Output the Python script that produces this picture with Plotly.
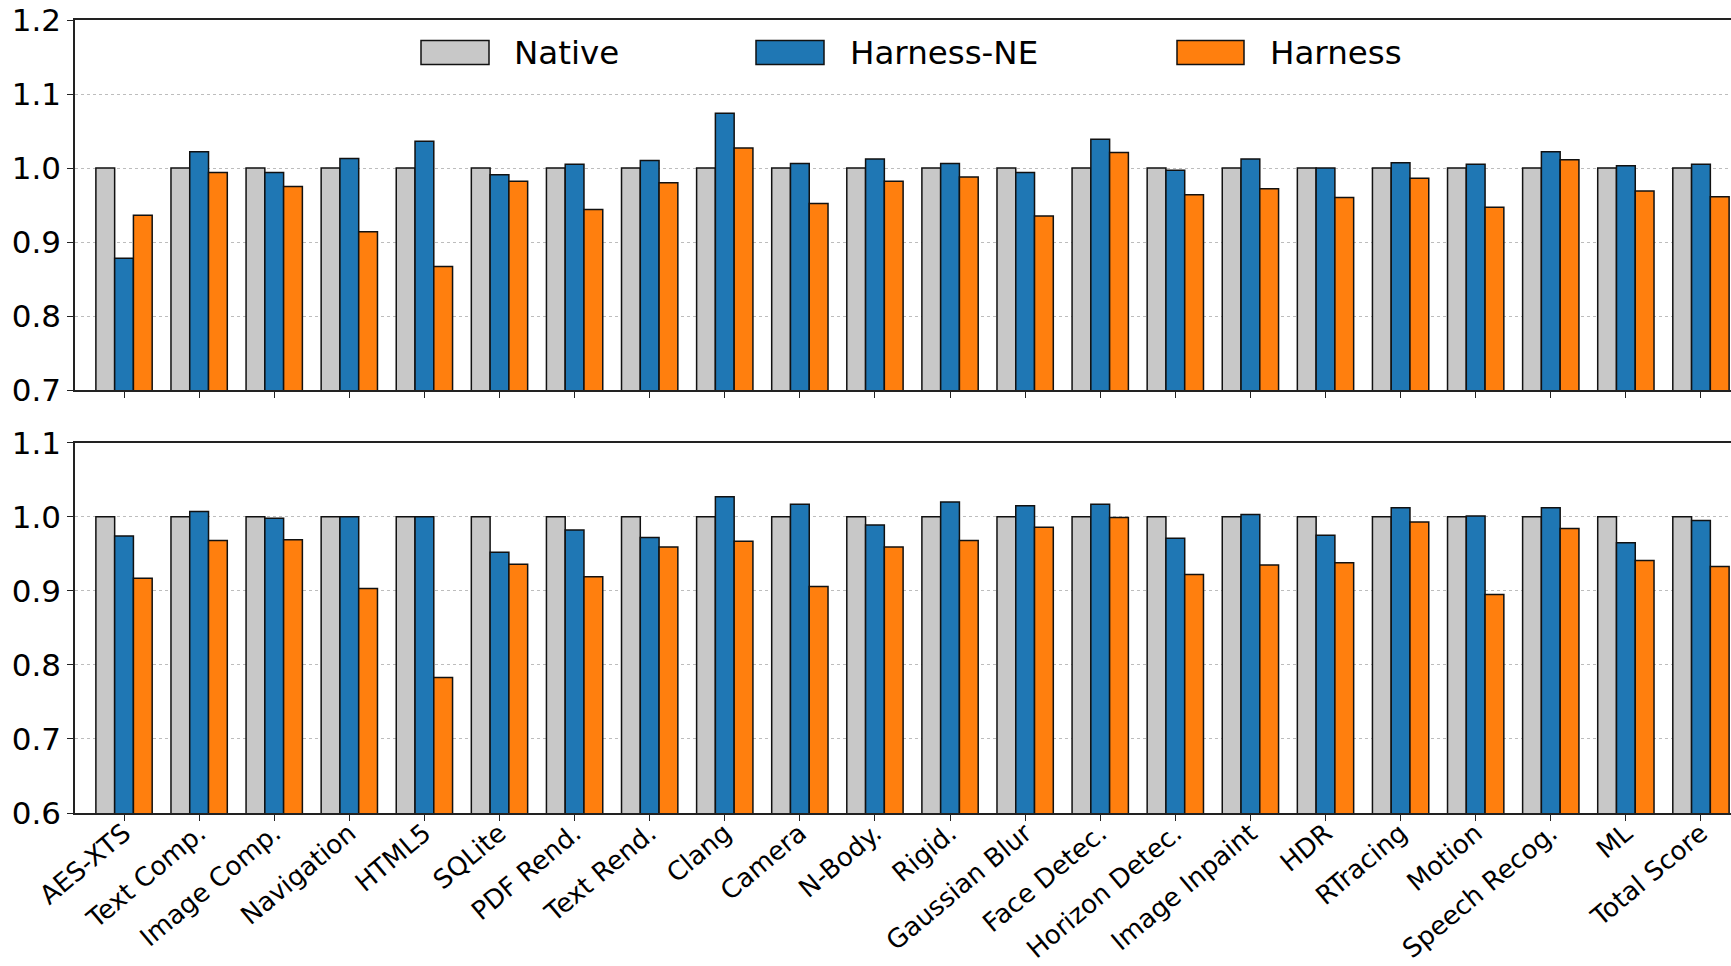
import plotly.graph_objects as go

# Benchmarks (x categories)
benchmarks = [
    "AES-XTS", "Text Comp.", "Image Comp.", "Navigation", "HTML5", "SQLite",
    "PDF Rend.", "Text Rend.", "Clang", "Camera", "N-Body.", "Rigid.",
    "Gaussian Blur", "Face Detec.", "Horizon Detec.", "Image Inpaint", "HDR",
    "RTracing", "Motion", "Speech Recog.", "ML", "Total Score",
]

# Upper panel: normalised scores
top_native = [1.0, 1.0, 1.0, 1.0, 1.0, 1.0, 1.0, 1.0, 1.0, 1.0, 1.0,
              1.0, 1.0, 1.0, 1.0, 1.0, 1.0, 1.0, 1.0, 1.0, 1.0, 1.0]
top_harness_ne = [0.878, 1.022, 0.994, 1.013, 1.036, 0.991, 1.005, 1.010,
                  1.074, 1.006, 1.012, 1.006, 0.994, 1.039, 0.997, 1.012,
                  1.000, 1.007, 1.005, 1.022, 1.003, 1.005]
top_harness = [0.936, 0.994, 0.975, 0.914, 0.867, 0.982, 0.944, 0.980,
               1.027, 0.952, 0.982, 0.988, 0.935, 1.021, 0.964, 0.972,
               0.960, 0.986, 0.947, 1.011, 0.969, 0.961]

# Lower panel: normalised scores
bot_native = [1.0, 1.0, 1.0, 1.0, 1.0, 1.0, 1.0, 1.0, 1.0, 1.0, 1.0,
              1.0, 1.0, 1.0, 1.0, 1.0, 1.0, 1.0, 1.0, 1.0, 1.0, 1.0]
bot_harness_ne = [0.974, 1.007, 0.998, 1.000, 1.000, 0.952, 0.982, 0.972,
                  1.027, 1.017, 0.989, 1.020, 1.015, 1.017, 0.971, 1.003,
                  0.975, 1.012, 1.001, 1.012, 0.965, 0.995]
bot_harness = [0.917, 0.968, 0.969, 0.903, 0.783, 0.936, 0.919, 0.959,
               0.967, 0.906, 0.959, 0.968, 0.986, 0.999, 0.922, 0.935,
               0.938, 0.993, 0.895, 0.984, 0.941, 0.933]

series_names = ["Native", "Harness-NE", "Harness"]
series_colors = ["#c8c8c8", "#1f77b4", "#ff7f0e"]

top_ticks = [0.7, 0.8, 0.9, 1.0, 1.1, 1.2]
bot_ticks = [0.6, 0.7, 0.8, 0.9, 1.0, 1.1]

FONT = "DejaVu Sans"
W, H = 1731, 966
M_L, M_R, M_T, M_B = 75, 0, 20, 153
plot_w = W - M_L - M_R
plot_h = H - M_T - M_B


def px_to_paper_x(px):
    return (px - M_L) / plot_w


def px_to_paper_y(py):
    return (H - M_B - py) / plot_h


fig = go.Figure()

panels = [
    ("x", "y", [top_native, top_harness_ne, top_harness]),
    ("x2", "y2", [bot_native, bot_harness_ne, bot_harness]),
]
for xa, ya, values in panels:
    for name, color, vals in zip(series_names, series_colors, values):
        fig.add_trace(go.Bar(
            x=benchmarks, y=vals, name=name, xaxis=xa, yaxis=ya,
            marker=dict(color=color, line=dict(color="#111111", width=1.5)),
            showlegend=False,
        ))

axis_line = dict(showline=True, linecolor="#222222", linewidth=1.5)
tick_style = dict(ticks="outside", ticklen=6, tickwidth=1.3, tickcolor="#222222")
x_range = [-0.653, 21.4]

fig.update_layout(
    width=W, height=H,
    margin=dict(l=M_L, r=M_R, t=M_T, b=M_B),
    paper_bgcolor="white", plot_bgcolor="white",
    font=dict(family=FONT, color="black", size=30),
    barmode="group", bargap=0.25, bargroupgap=0.0,
    xaxis=dict(domain=[0, 1], anchor="y", range=x_range, showticklabels=False,
               showgrid=False, mirror=True, automargin=False,
               **axis_line, **tick_style),
    yaxis=dict(domain=[px_to_paper_y(390), 1.0], anchor="x", range=[0.7, 1.2],
               tickvals=top_ticks, tickformat=".1f", showgrid=True,
               gridcolor="#bdbdbd", griddash="dot", gridwidth=1,
               zeroline=False, automargin=False,
               tickfont=dict(size=31, family=FONT),
               **axis_line, **tick_style),
    xaxis2=dict(domain=[0, 1], anchor="y2", range=x_range, showgrid=False,
                mirror=True, tickangle=-40, automargin=False,
                ticklabelstandoff=-13,
                tickfont=dict(size=26, family=FONT),
                **axis_line, **tick_style),
    yaxis2=dict(domain=[0, px_to_paper_y(442.7)], anchor="x2", range=[0.6, 1.1],
                tickvals=bot_ticks, tickformat=".1f", showgrid=True,
                gridcolor="#bdbdbd", griddash="dot", gridwidth=1,
                zeroline=False, automargin=False,
                tickfont=dict(size=31, family=FONT),
                **axis_line, **tick_style),
)

# Legend: wide swatches with labels across the upper panel
legend_boxes = [(421, 489, 514), (756, 824, 850), (1177, 1244, 1270)]
for (x0, x1, tx), name, color in zip(legend_boxes, series_names, series_colors):
    fig.add_shape(
        type="rect", xref="paper", yref="paper",
        x0=px_to_paper_x(x0), x1=px_to_paper_x(x1),
        y0=px_to_paper_y(64.5), y1=px_to_paper_y(40.5),
        fillcolor=color, line=dict(color="#111111", width=1.5),
    )
    fig.add_annotation(
        text=name, xref="paper", yref="paper",
        x=px_to_paper_x(tx - 2), y=px_to_paper_y(52.5),
        xanchor="left", yanchor="middle", showarrow=False,
        font=dict(size=32.5, family=FONT, color="black"),
    )

fig.write_html("out.html")
